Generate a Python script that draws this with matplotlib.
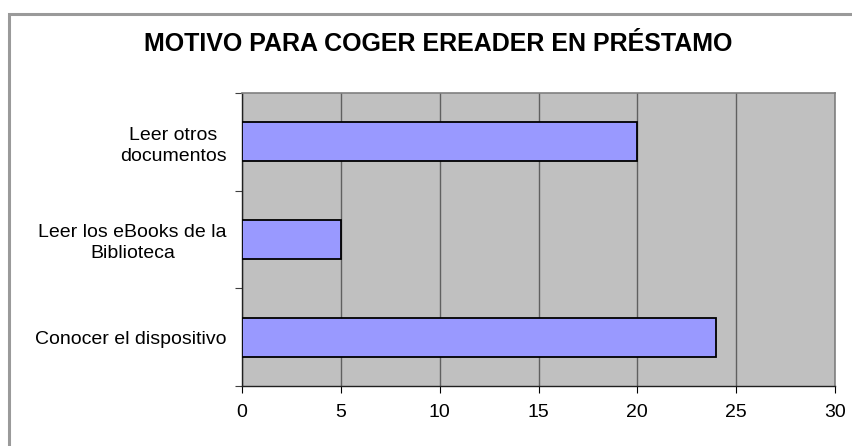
import matplotlib.pyplot as plt
from matplotlib.patches import Rectangle
from matplotlib.ticker import MultipleLocator

plt.rcParams['font.family'] = ['Liberation Sans', 'DejaVu Sans']

categories = ['Conocer el dispositivo',
              'Leer los eBooks de la\nBiblioteca',
              'Leer otros\ndocumentos']
values = [24, 5, 20]
title = 'MOTIVO PARA COGER EREADER EN PRÉSTAMO'

fig = plt.figure(figsize=(8.53, 4.46), dpi=100)
ax = fig.add_axes([242 / 853, 1 - 386 / 446, 593 / 853, 293 / 446])

# outer chart frame (cut off by image at right and bottom)
fig.patches.append(Rectangle((8.5 / 853, -0.1), 1.2, 1.1 - 13.5 / 446,
                             transform=fig.transFigure, fill=False,
                             edgecolor='#9a9a9a', linewidth=2.2))

ax.set_facecolor('#c0c0c0')
ypos = range(len(categories))
ax.barh(ypos, values, height=0.4, color='#9999ff', edgecolor='black',
        linewidth=1.3, zorder=3)

ax.set_xlim(0, 30)
ax.set_ylim(-0.5, len(categories) - 0.5)
ax.xaxis.set_major_locator(MultipleLocator(5))
ax.grid(axis='x', color='#606060', linewidth=1.0, zorder=1)
ax.set_axisbelow(True)

# category boundaries as ticks, labels centered on bars
ax.set_yticks([i - 0.5 for i in range(len(categories) + 1)])
ax.set_yticklabels([])
ax.set_yticks(list(ypos), minor=True)
ax.set_yticklabels(categories, minor=True, multialignment='center',
                   linespacing=1.3)
ax.tick_params(axis='y', which='major', direction='out', length=5,
               color='#404040')
ax.tick_params(axis='y', which='minor', length=0, pad=11, labelsize=14)
ax.tick_params(axis='x', direction='out', length=5, pad=8, labelsize=14,
               color='black')

for side in ['top', 'right']:
    ax.spines[side].set_color('#808080')
    ax.spines[side].set_linewidth(1.2)
for side in ['left', 'bottom']:
    ax.spines[side].set_color('#202020')
    ax.spines[side].set_linewidth(1.0)

fig.text(438 / 853, 1 - 44 / 446, title, ha='center', va='center',
         fontsize=18, fontweight='bold')

fig.savefig('out.png', dpi=100)
